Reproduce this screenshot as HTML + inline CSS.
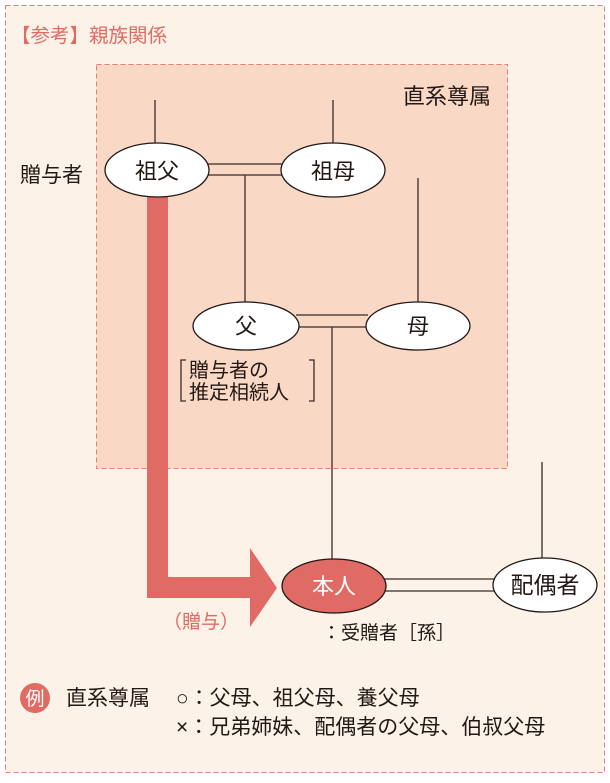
<!DOCTYPE html>
<html><head><meta charset="utf-8"><style>
body{margin:0;width:610px;height:778px;background:#fff;overflow:hidden}
svg text{font-family:"Liberation Sans","Noto Sans CJK JP",sans-serif}
</style></head><body>
<svg width="610" height="778" viewBox="0 0 610 778" xmlns="http://www.w3.org/2000/svg">
<rect x="5.5" y="5.5" width="599" height="767" fill="#fdf2e7" stroke="#e57f7d" stroke-width="1" stroke-dasharray="5,3"/>
<text x="11" y="42" font-size="19.5" fill="#e06b65">【参考】親族関係</text>
<rect x="96.5" y="64.5" width="411" height="404" fill="#f9d9c6" stroke="#e57f7d" stroke-width="1" stroke-dasharray="5,3"/>
<text x="403" y="104" font-size="22" fill="#231815">直系尊属</text>
<g stroke="#3a2a25" stroke-width="1.3" fill="none">
<line x1="155" y1="100" x2="155" y2="143"/>
<line x1="333" y1="100" x2="333" y2="143"/>
<line x1="205" y1="164" x2="282" y2="164"/>
<line x1="205" y1="175" x2="282" y2="175"/>
<line x1="245" y1="175" x2="245" y2="302"/>
<line x1="418" y1="178" x2="418" y2="302"/>
<line x1="296" y1="315" x2="368" y2="315"/>
<line x1="296" y1="327" x2="368" y2="327"/>
<line x1="332" y1="327" x2="332" y2="560"/>
<line x1="542" y1="462" x2="542" y2="560"/>
<line x1="384" y1="579" x2="495" y2="579"/>
<line x1="384" y1="591" x2="495" y2="591"/>
<path d="M186 360 H181 V401 H186"/>
<path d="M309 360 H314 V401 H309"/>
</g>
<path d="M147 195 H168 V577 H250 V548 L277 588 L250 627 V598 H147 Z" fill="#e06b65"/>
<g stroke="#231815" stroke-width="1.3" fill="#fff">
<ellipse cx="157" cy="170" rx="52" ry="27"/>
<ellipse cx="333" cy="170" rx="52" ry="27"/>
<ellipse cx="246" cy="326" rx="53" ry="24"/>
<ellipse cx="418" cy="326" rx="52" ry="24"/>
<ellipse cx="334" cy="586" rx="52" ry="27" fill="#e06b65"/>
<ellipse cx="545" cy="585" rx="52" ry="27"/>
</g>
<g font-size="22" fill="#231815" text-anchor="middle">
<text x="157" y="179">祖父</text>
<text x="333" y="179">祖母</text>
<text x="246" y="334">父</text>
<text x="418" y="334">母</text>
<text x="334" y="594" fill="#fff">本人</text>
<text x="545" y="593" font-size="23">配偶者</text>
</g>
<text x="20" y="182" font-size="21" fill="#231815">贈与者</text>
<g font-size="20" fill="#231815">
<text x="189" y="377">贈与者の</text>
<text x="189" y="399">推定相続人</text>
</g>
<text x="163" y="628" font-size="19" fill="#e06b65">（贈与）</text>
<text x="322" y="639" font-size="19" fill="#231815">：受贈者［孫］</text>
<circle cx="35" cy="698" r="15" fill="#e06b65"/>
<text x="35" y="705" font-size="19" fill="#fff" text-anchor="middle">例</text>
<g font-size="21" fill="#231815">
<text x="66" y="705">直系尊属</text>
<text x="176" y="705">○：父母、祖父母、養父母</text>
<text x="176" y="734">×：兄弟姉妹、配偶者の父母、伯叔父母</text>
</g>
</svg>
</body></html>
